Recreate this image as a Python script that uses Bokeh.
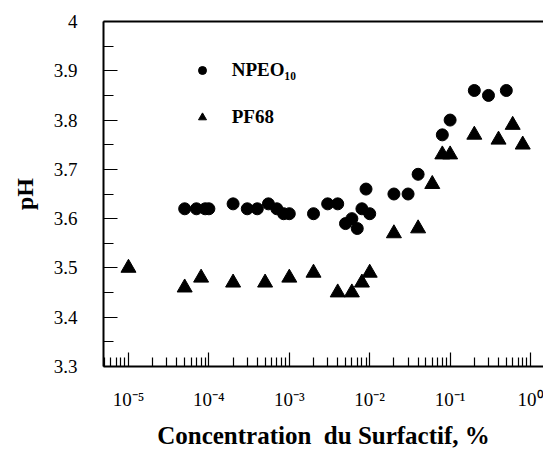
from bokeh.plotting import figure
from bokeh.models import (FixedTicker, CustomJSTickFormatter, Legend, LegendItem,
                          LogAxis, Range1d)
from bokeh.embed import file_html
from bokeh.resources import INLINE

# ---- data ----
npeo_x = [5e-5, 7e-5, 9e-5, 1e-4, 2e-4, 3e-4, 4e-4, 5.5e-4, 7e-4, 8.5e-4, 1e-3,
          2e-3, 3e-3, 4e-3, 5e-3, 6e-3, 7e-3, 8e-3, 9e-3, 1e-2, 2e-2, 3e-2, 4e-2,
          8e-2, 1e-1, 2e-1, 3e-1, 5e-1]
npeo_y = [3.62, 3.62, 3.62, 3.62, 3.63, 3.62, 3.62, 3.63, 3.62, 3.61, 3.61,
          3.61, 3.63, 3.63, 3.59, 3.60, 3.58, 3.62, 3.66, 3.61, 3.65, 3.65, 3.69,
          3.77, 3.80, 3.86, 3.85, 3.86]

pf68_x = [1e-5, 5e-5, 8e-5, 2e-4, 5e-4, 1e-3, 2e-3, 4e-3, 6e-3, 8e-3, 1e-2,
          2e-2, 4e-2, 6e-2, 8e-2, 1e-1, 2e-1, 4e-1, 6e-1, 8e-1]
pf68_y = [3.50, 3.46, 3.48, 3.47, 3.47, 3.48, 3.49, 3.45, 3.45, 3.47, 3.49,
          3.57, 3.58, 3.67, 3.73, 3.73, 3.77, 3.76, 3.79, 3.75]

series_labels = ["NPEO\u2081\u2080", "PF68"]

x_ticks = [1e-5, 1e-4, 1e-3, 1e-2, 1e-1, 1e0]
x_tick_labels = ["10\u207b\u2075", "10\u207b\u2074", "10\u207b\u00b3",
                 "10\u207b\u00b2", "10\u207b\u00b9", "10\u2070"]
y_ticks = [3.3, 3.4, 3.5, 3.6, 3.7, 3.8, 3.9, 4.0]
y_tick_labels = ["3.3", "3.4", "3.5", "3.6", "3.7", "3.8", "3.9", "4"]

x_label = "Concentration \u00a0du Surfactif, %"
y_label = "pH"

FONT = "Liberation Serif"

p = figure(width=543, height=451, x_axis_type="log",
           x_range=Range1d(4.89e-6, 1.45), y_range=Range1d(3.3, 4.0),
           output_backend="svg", toolbar_location=None,
           min_border_left=103, min_border_right=0, min_border_top=21,
           min_border_bottom=83)
p.grid.visible = False
p.outline_line_color = None
p.background_fill_color = "white"
p.border_fill_color = "white"

# x axis
x_minor = [m * 10.0 ** e for e in range(-6, 1) for m in range(2, 10)]
xa = p.xaxis[0]
xa.ticker = FixedTicker(ticks=x_ticks, minor_ticks=x_minor)
xa.formatter = CustomJSTickFormatter(args=dict(labels=x_tick_labels),
                                     code="return labels[Math.round(Math.log10(tick)) + 5];")
xa.major_tick_in = 14
xa.major_tick_out = 0
xa.minor_tick_in = 9
xa.minor_tick_out = 0
xa.axis_line_width = 2
xa.major_tick_line_width = 1.2
xa.minor_tick_line_width = 1.2
xa.major_label_text_font = FONT
xa.major_label_text_font_size = "19px"
xa.major_label_text_color = "black"
xa.major_label_standoff = 22
xa.axis_label = x_label
xa.axis_label_text_font = FONT
xa.axis_label_text_font_style = "bold"
xa.axis_label_text_font_size = "25px"
xa.axis_label_text_color = "black"
xa.axis_label_standoff = 9

# y axis
y_minor = [(a + b) / 2 for a, b in zip(y_ticks[:-1], y_ticks[1:])]
ya = p.yaxis[0]
ya.ticker = FixedTicker(ticks=y_ticks, minor_ticks=y_minor)
ya.formatter = CustomJSTickFormatter(args=dict(labels=y_tick_labels),
                                     code="return labels[Math.round((tick - 3.3) * 10)];")
ya.major_tick_in = 14
ya.major_tick_out = 0
ya.minor_tick_in = 10
ya.minor_tick_out = 0
ya.axis_line_width = 2
ya.major_tick_line_width = 1.2
ya.minor_tick_line_width = 1.2
ya.major_label_text_font = FONT
ya.major_label_text_font_size = "19px"
ya.major_label_text_color = "black"
ya.major_label_standoff = 26
ya.axis_label = y_label
ya.axis_label_text_font = FONT
ya.axis_label_text_font_style = "bold"
ya.axis_label_text_font_size = "24px"
ya.axis_label_text_color = "black"
ya.axis_label_standoff = 13

# top frame line
top = LogAxis(ticker=FixedTicker(ticks=[]), major_tick_in=0, major_tick_out=0,
              minor_tick_in=0, minor_tick_out=0, major_label_standoff=0,
              major_label_text_font_size="0px", axis_line_width=2)
p.add_layout(top, "above")

r1 = p.scatter(npeo_x, npeo_y, marker="circle", size=12, color="black")
r2 = p.scatter(pf68_x, pf68_y, marker="triangle", size=15, color="black")

legend = Legend(items=[LegendItem(label=series_labels[0], renderers=[r1]),
                       LegendItem(label=series_labels[1], renderers=[r2])],
                location=(88.7, 238), padding=0, margin=0,
                glyph_width=20, glyph_height=20, label_height=20,
                label_standoff=20, spacing=25,
                border_line_color=None, background_fill_alpha=0,
                label_text_font=FONT, label_text_font_style="bold",
                label_text_font_size="19px", label_text_color="black")
p.add_layout(legend)

open("out.html", "w").write(file_html(p, INLINE))
